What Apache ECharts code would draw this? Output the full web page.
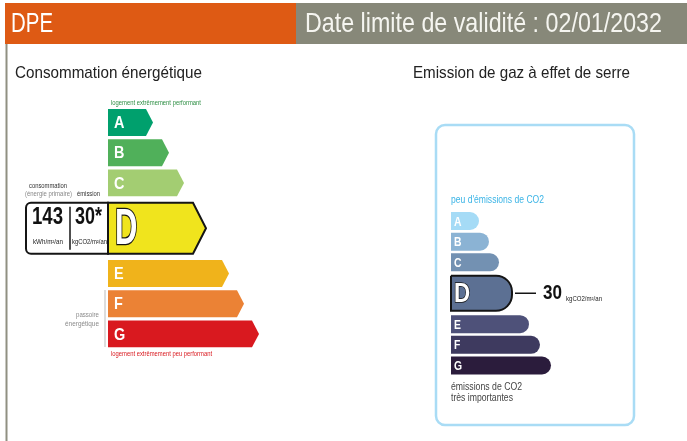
<!DOCTYPE html>
<html>
<head>
<meta charset="utf-8">
<script src="https://cdn.jsdelivr.net/npm/echarts@6/dist/echarts.min.js"></script>
<style>
  html, body { margin: 0; padding: 0; background: #fff; }
  #chart { width: 687px; height: 441px; }
</style>
</head>
<body>
<div id="chart"></div>
<script>
const classes = ['A', 'B', 'C', 'D', 'E', 'F', 'G'];
const energyBars = [45, 61, 76, 98, 121, 136, 151];
const climateBars = [28, 38, 48, 61, 78, 89, 100];
const currentClass = 'D';
const consumption = 143;
const emission = 30;
const validUntil = '02/01/2032';

const energyColors = ['#00a06d', '#50b05a', '#a3cd72', '#f0e41d', '#f0b31b', '#eb8235', '#d9191f'];
const climateColors = ['#a5dbf6', '#8bb3d4', '#7391b2', '#5c7093', '#4e5179', '#3e3a5f', '#2b1c3c'];
const FAMILY = '"Liberation Sans", Arial, sans-serif';

// the current class takes two slots on the category axis
const cur = classes.indexOf(currentClass);
const slots = [];
classes.forEach((c, i) => { slots.push(c); if (i === cur) slots.push(''); });
const slotOf = i => i + (i > cur ? 1 : 0);
const energyData = classes.map((c, i) => [energyBars[i], slotOf(i), i]);
const climateData = classes.map((c, i) => [climateBars[i], slotOf(i), i]);

// the original uses a condensed face, so squeeze the text to its width
const measureCtx = document.createElement('canvas').getContext('2d');
function txt(text, x, y, size, width, fill, opts) {
  opts = opts || {};
  const font = (opts.bold ? 'bold ' : '') + size + 'px ' + FAMILY;
  measureCtx.font = font;
  const sx = opts.scale || (width / measureCtx.measureText(text).width);
  const style = { text: text, fill: fill, font: font, align: opts.align || 'left', verticalAlign: 'middle' };
  if (opts.stroke) { style.stroke = opts.stroke; style.lineWidth = opts.lineWidth; }
  return { type: 'text', x: x, y: y, scaleX: sx, scaleY: 1, style: style };
}

function rowBox(api, ratio, bigRatio) {
  const i = api.value(2);
  const big = i === cur;
  const start = api.coord([0, api.value(1)]);
  const end = api.coord([api.value(0), api.value(1)]);
  const band = api.size([0, 1])[1];
  let cy = start[1];
  let h = band * ratio;
  if (big) { cy += band / 2; h = band * 2 * bigRatio; }
  return { i, big, x0: start[0], x1: end[0], cy, h, y0: cy - h / 2, y1: cy + h / 2 };
}

function renderEnergy(params, api) {
  const b = rowBox(api, 0.89, 0.845);
  const tip = b.big ? 13 : 7;
  const children = [{
    type: 'polygon',
    shape: { points: [[b.x0, b.y0], [b.x1 - tip, b.y0], [b.x1, b.cy], [b.x1 - tip, b.y1], [b.x0, b.y1]] },
    style: { fill: energyColors[b.i], stroke: b.big ? '#151515' : null, lineWidth: b.big ? 2 : 0 }
  }];
  if (!b.big) {
    children.push(txt(classes[b.i], b.x0 + 6, b.cy + 1, 17, 0, '#fff', { bold: true, scale: 0.85 }));
  } else {
    children.push(txt(classes[b.i], b.x0 + 7, b.cy + 2, 50, 0, '#fff',
      { bold: true, scale: 0.62, stroke: '#151515', lineWidth: 2.5 }));
    const L = b.x0 - 82;
    children.push({
      type: 'rect', shape: { x: L, y: b.y0, width: 82, height: b.h, r: [5, 0, 0, 5] },
      style: { fill: '#fff', stroke: '#151515', lineWidth: 2 }
    });
    children.push({
      type: 'line', shape: { x1: b.x0 - 38, y1: b.y0 + 4, x2: b.x0 - 38, y2: b.y1 - 4 },
      style: { stroke: '#151515', lineWidth: 1.5 }
    });
    children.push(txt(String(consumption), b.x0 - 60.5, b.cy - 11, 24, 31, '#111', { bold: true, align: 'center' }));
    children.push(txt(emission + '*', b.x0 - 19.5, b.cy - 11, 24, 27, '#111', { bold: true, align: 'center' }));
    children.push(txt('kWh/m²/an', b.x0 - 60, b.cy + 14, 7, 30, '#222', { align: 'center' }));
    children.push(txt('kgCO2/m²/an', b.x0 - 18.5, b.cy + 14, 7, 35, '#222', { align: 'center' }));
    children.push(txt('consommation', b.x0 - 60, b.y0 - 17, 7.5, 38, '#333', { align: 'center' }));
    children.push(txt('(énergie primaire)', b.x0 - 59.5, b.y0 - 9, 7.5, 47, '#888', { align: 'center' }));
    children.push(txt('émission', b.x0 - 19.5, b.y0 - 9, 7.5, 23, '#333', { align: 'center' }));
  }
  return { type: 'group', children: children };
}

function renderClimate(params, api) {
  const b = rowBox(api, 0.87, 0.85);
  const r = b.big ? 16 : b.h / 2;
  const children = [{
    type: 'rect',
    shape: { x: b.x0, y: b.y0, width: b.x1 - b.x0, height: b.h, r: [0, r, r, 0] },
    style: { fill: climateColors[b.i], stroke: b.big ? '#151515' : null, lineWidth: b.big ? 2 : 0 }
  }];
  if (!b.big) {
    children.push(txt(classes[b.i], b.x0 + 3, b.cy + 1, 13, 0, '#fff', { bold: true, scale: 0.8 }));
  } else {
    children.push(txt(classes[b.i], b.x0 + 3, b.cy + 1, 28, 0, '#fff',
      { bold: true, scale: 0.8, stroke: '#151515', lineWidth: 1.5 }));
    children.push({
      type: 'line', shape: { x1: b.x1 + 3, y1: b.cy, x2: b.x1 + 24, y2: b.cy },
      style: { stroke: '#151515', lineWidth: 1.5 }
    });
    children.push(txt(String(emission), b.x1 + 31, b.cy, 21, 19, '#111', { bold: true }));
    children.push(txt('kgCO2/m²/an', b.x1 + 54, b.cy + 6, 7, 36, '#222'));
  }
  return { type: 'group', children: children };
}

const chart = echarts.init(document.getElementById('chart'), null, { renderer: 'canvas' });

const option = {
  animation: false,
  grid: [
    { left: 108, top: 107.4, width: 160, height: 241.6 },
    { left: 451, top: 210.7, width: 120, height: 165.1 }
  ],
  xAxis: [
    { gridIndex: 0, type: 'value', min: 0, max: 160, show: false },
    { gridIndex: 1, type: 'value', min: 0, max: 120, show: false }
  ],
  yAxis: [
    { gridIndex: 0, type: 'category', data: slots, inverse: true, show: false },
    { gridIndex: 1, type: 'category', data: slots, inverse: true, show: false }
  ],
  series: [
    { type: 'custom', xAxisIndex: 0, yAxisIndex: 0, clip: false, renderItem: renderEnergy,
      encode: { x: 0, y: 1 }, data: energyData },
    { type: 'custom', xAxisIndex: 1, yAxisIndex: 1, clip: false, renderItem: renderClimate,
      encode: { x: 0, y: 1 }, data: climateData }
  ],
  graphic: [
    { type: 'rect', shape: { x: 5, y: 3, width: 291, height: 41 }, style: { fill: '#de5a14' } },
    { type: 'rect', shape: { x: 296, y: 3, width: 391, height: 41 }, style: { fill: '#878879' } },
    { type: 'rect', shape: { x: 5.5, y: 44, width: 2, height: 397 }, style: { fill: '#909082' } },
    txt('DPE', 11, 24, 28, 42, '#fff'),
    txt('Date limite de validité : ' + validUntil, 305, 24, 28, 357, '#f5f5f0'),
    txt('Consommation énergétique', 15, 73, 17, 187, '#222'),
    txt('Emission de gaz à effet de serre', 413, 73, 17, 217, '#222'),
    txt('logement extrêmement performant', 111, 103, 7, 90, '#2f8f45'),
    txt('logement extrêmement peu performant', 111, 354, 7, 101, '#d9191f'),
    txt('passoire', 99, 315, 7, 23, '#8a8a8a', { align: 'right' }),
    txt('énergétique', 99, 324, 7, 34, '#8a8a8a', { align: 'right' }),
    { type: 'rect', shape: { x: 104.5, y: 290, width: 1, height: 57 }, style: { fill: '#bbbbbb' } },
    { type: 'rect', shape: { x: 436, y: 125, width: 198, height: 300, r: 9 },
      style: { fill: null, stroke: '#a9dcf5', lineWidth: 2.5 } },
    txt("peu d'émissions de CO2", 451, 200, 10, 93, '#3bb4e6'),
    txt('émissions de CO2', 451, 387, 10, 71, '#444'),
    txt('très importantes', 451, 398, 10, 62, '#444')
  ]
};

chart.setOption(option);
</script>
</body>
</html>
